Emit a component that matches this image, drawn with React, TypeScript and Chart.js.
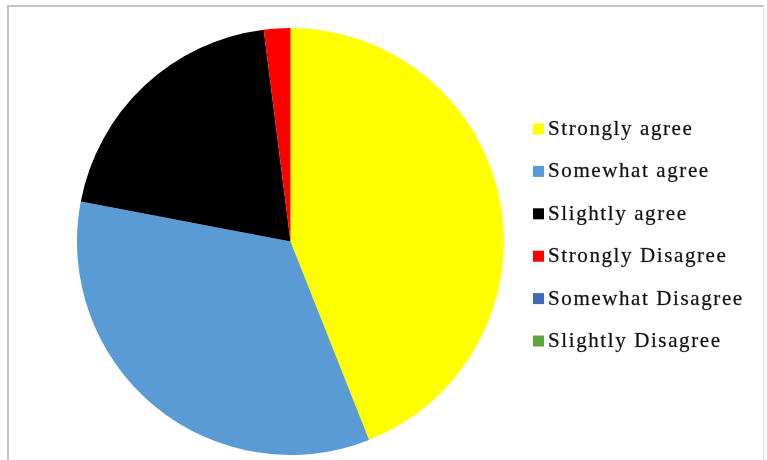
import React, { useEffect, useRef } from "react";
import { Chart, registerables } from "chart.js";

Chart.register(...registerables);

const labels = [
  "Strongly agree",
  "Somewhat agree",
  "Slightly agree",
  "Strongly Disagree",
  "Somewhat Disagree",
  "Slightly Disagree",
];
const values = [44, 34, 20, 2, 0, 0];
const colors = ["#FFFF00", "#5B9BD5", "#000000", "#FF0000", "#4468B8", "#5FA53C"];

const legendPlugin = {
  id: "sideLegend",
  afterDraw(chart: any) {
    const ctx = chart.ctx;
    const lbls: string[] = chart.data.labels;
    const bg: string[] = chart.data.datasets[0].backgroundColor;
    ctx.save();
    ctx.font = "21px 'Liberation Serif', 'Times New Roman', serif";
    (ctx as any).letterSpacing = "1.6px";
    ctx.textBaseline = "middle";
    const x0 = 533;
    const y0 = 128.5;
    const step = 42.4;
    lbls.forEach((l, i) => {
      const y = y0 + i * step;
      ctx.fillStyle = bg[i];
      ctx.fillRect(x0, y - 5, 11, 11);
      ctx.fillStyle = "#111";
      ctx.strokeStyle = "rgba(17,17,17,0.5)";
      ctx.lineWidth = 0.5;
      ctx.fillText(l, x0 + 15, y + 1);
      ctx.strokeText(l, x0 + 15, y + 1);
    });
    ctx.restore();
  },
};

export default function App() {
  const ref = useRef<HTMLCanvasElement | null>(null);
  useEffect(() => {
    if (!ref.current) return;
    const chart = new Chart(ref.current, {
      type: "pie",
      data: {
        labels,
        datasets: [
          {
            data: values,
            backgroundColor: colors,
            borderWidth: 0,
          },
        ],
      },
      options: {
        animation: false,
        responsive: false,
        maintainAspectRatio: false,
        layout: { padding: { left: 77, right: 263, top: 28, bottom: 5 } },
        plugins: {
          legend: { display: false },
          tooltip: { enabled: false },
        },
      },
      plugins: [legendPlugin],
    });
    return () => chart.destroy();
  }, []);
  return (
    <div style={{ position: "absolute", left: 0, top: 0, width: 767, height: 460, background: "#fff", overflow: "hidden" }}>
      <div
        style={{
          position: "absolute",
          left: 7,
          top: 5,
          width: 757,
          height: 460,
          borderTop: "2px solid #c4c4c4",
          borderLeft: "2px solid #c4c4c4",
          borderRight: "1px solid #e6e6e6",
          boxSizing: "border-box",
        }}
      />
      <canvas ref={ref} width={767} height={460} style={{ position: "absolute", left: 0, top: 0 }} />
    </div>
  );
}
